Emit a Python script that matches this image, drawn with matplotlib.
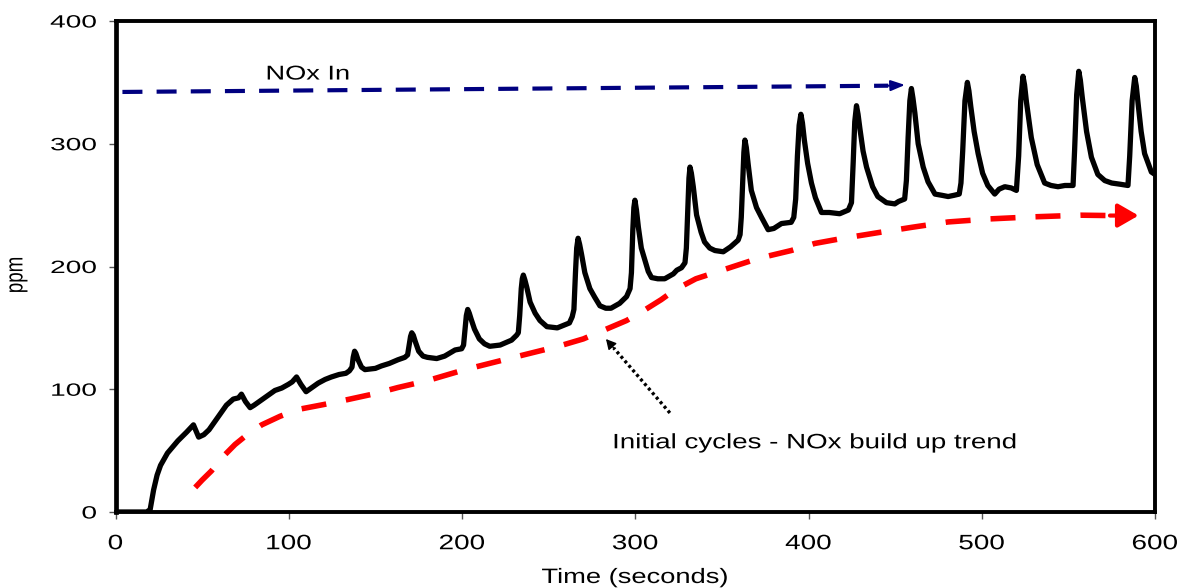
import matplotlib
matplotlib.use("Agg")
import matplotlib.pyplot as plt
from matplotlib.patches import FancyArrowPatch
from matplotlib.patheffects import AbstractPathEffect
from matplotlib.transforms import Affine2D

# ---------------- data ----------------
time_s = [0, 18, 20, 22, 24, 26, 30, 36, 41, 45, 46.5, 48, 51, 54, 59, 64, 68, 71, 72.7, 75,
          77.7, 80, 84, 88, 92, 96, 99.8, 102, 104.5, 107, 110, 113, 117, 121, 124.6, 129,
          133, 135, 136.5, 137.2, 138, 138.8, 140, 142, 144, 150, 153.5, 158, 163, 167,
          168.6, 169.5, 170.3, 171, 171.9, 173, 175, 177.5, 180, 185.4, 190, 196, 199.8,
          200.9, 201.8, 202.5, 203.3, 204.2, 205.3, 207.2, 210, 213, 216, 222, 228.6, 231.5, 232.5,
          233.3, 234.2, 234.8, 235.4, 236.3, 237.4, 239.3, 242.2, 245, 249, 255, 262,
          263.6, 264.6, 265.5, 266.2, 267, 267.9, 269, 270.9, 273.8, 276.6, 279.6, 283, 286, 291, 295,
          297, 297.8, 298.6, 299.2, 299.8, 300.7, 301.8, 303.5, 305.6, 307.5, 309.4, 313, 317, 322, 324,
          326.7, 328.7,
          329.5, 330.4, 331, 331.6, 332.4, 333.5, 335.4, 338, 340, 343, 346, 350.8, 355, 359.4, 360.5,
          361.2, 362, 362.7, 363.3, 364.1, 365.2, 367, 370, 372.9, 376.7, 380, 384.4, 390, 391.5,
          392.6, 393.6, 394.6, 395.6, 396.5, 397.6, 399.5, 401.7, 404, 407.5, 412, 418, 423, 424.8,
          425.8, 426.7, 427.7, 428.6, 429.7, 431.5, 433.5, 437, 440, 445, 449.8, 452, 455.5,
          456.5, 457.5, 458.5, 459.4, 460.3, 461.4, 463.3, 466.2, 469, 473, 477, 480.6, 484, 487,
          488, 489, 490.3, 491.7, 492.6, 493.7, 495.6, 497.9, 500.5, 503.5, 507.5, 510, 513.3, 517, 520,
          521.3, 522.5, 523.8, 524.7, 525.8, 528.6, 532, 536.3, 540, 544, 548, 552.7,
          553.6, 554.8, 556, 556.9, 558, 560.5, 563.3, 567, 571, 575, 580, 584.4,
          585.4, 586.8, 588.3, 589.2, 590.3, 592, 594, 597.9, 600]
nox_ppm = [0, 0, 2, 18, 30, 38, 48, 58, 65, 71, 66, 61, 63, 67, 77, 87, 92, 93, 96, 90,
           85, 87, 91, 95, 99, 101, 104, 106, 110, 104, 98, 101, 105, 108, 110, 112,
           113, 115, 118, 126, 131, 129, 124, 118, 116, 117, 119, 121, 124, 126,
           128, 136, 143, 146, 144, 139, 131, 127, 126, 125, 127, 132, 133,
           136, 150, 160, 165, 162, 157, 149, 141, 137, 135, 136, 140, 144, 146,
           160, 182, 190, 193, 189, 183, 171, 162, 156, 151, 150, 154,
           159, 165, 195, 215, 223, 218, 210, 195, 182, 175, 168, 166, 166, 170, 175.5,
           182, 195, 230, 248, 254, 246, 232, 215, 205, 196, 191, 190, 190, 194, 197,
           199, 203,
           215, 250, 272, 281, 276, 265, 242, 228, 220, 215, 213, 212, 216, 221.5, 226,
           240, 268, 293, 303, 297, 283, 262, 248, 240, 230, 231, 235, 236, 240,
           255, 290, 315, 324, 317, 303, 284, 268, 256, 244, 244, 243, 246, 252,
           285, 318, 331, 324, 312, 294, 281, 265, 257, 252, 251, 253, 255,
           270, 305, 335, 345, 337, 325, 300, 281, 269, 259, 258, 257, 258, 259,
           268, 294, 335, 350, 343, 330, 310, 292, 276, 266, 259, 263, 265, 264, 262,
           290, 335, 355, 348, 334, 305, 283, 268, 266, 265, 266, 266,
           295, 340, 359, 352, 338, 310, 289, 275, 270, 268, 267, 266,
           290, 335, 354, 347, 332, 310, 292, 277, 275]

trend_t = [46, 50, 55.4, 62, 69, 76, 84.4, 95, 105.6, 120, 134.4, 150, 163, 180, 201.7, 228.5, 255.6, 270,
           282.5, 295, 305.6, 315, 322.9, 335, 351.7, 371, 390, 403.7, 420, 442, 460, 480.6, 505, 528.7,
           545, 557, 574]
trend_ppm = [20, 26, 33.5, 45, 55, 63, 71, 78, 83.6, 87.5, 91.7, 96.5, 101.4, 107, 116, 125.5, 135, 141,
             148.5, 156, 164.7, 173, 181, 190, 197.7, 206.6, 213, 218.8, 223, 228, 232, 236.3, 238.8, 240.4,
             241.2, 241.8, 241.5]
trend_tip = (590.5, 241.5)

nox_in_t = [4, 446]
nox_in_ppm = [342.2, 347.3]
nox_in_tip = (455.7, 347.9)

pointer_start = (320, 80.7)
pointer_tip = (283.1, 140.9)

x_ticks = [0, 100, 200, 300, 400, 500, 600]
y_ticks = [0, 100, 200, 300, 400]
x_label = "Time (seconds)"
y_label = "ppm"
label_nox_in = "NOx In"
label_trend = "Initial cycles - NOx build up trend"


# ---------------- helpers ----------------
class Stretch(AbstractPathEffect):
    """Draw text path stretched (the reference text is wide)."""
    def __init__(self, sx=1.0, sy=1.0, anchor="center"):
        super().__init__()
        self.sx, self.sy, self.anchor = sx, sy, anchor

    def draw_path(self, renderer, gc, tpath, affine, rgbFace=None):
        ext = tpath.get_extents()
        if self.anchor == "left":
            ax0 = ext.x0
        elif self.anchor == "right":
            ax0 = ext.x1
        else:
            ax0 = 0.5 * (ext.x0 + ext.x1)
        ay0 = 0.5 * (ext.y0 + ext.y1)
        t = Affine2D().translate(-ax0, -ay0).scale(self.sx, self.sy).translate(ax0, ay0)
        renderer.draw_path(gc, tpath, t + affine, rgbFace)


plt.rcParams["font.family"] = ["Liberation Sans", "DejaVu Sans"]

W, H = 1188, 588
fig = plt.figure(figsize=(W / 100, H / 100), dpi=100)
ax = fig.add_axes([115.5 / W, 1 - 512 / H, (1155 - 115.5) / W, (512 - 21) / H])

# main signal
ax.plot(time_s, nox_ppm, color="black", lw=3.8, solid_joinstyle="round", solid_capstyle="round", zorder=5)

# red trend dashed + arrow head
ax.plot(trend_t, trend_ppm, color="#ff0000", lw=4.0, dashes=(4.5, 3.6), dash_capstyle="butt", zorder=4)
ax.add_patch(FancyArrowPatch((trend_t[-1], trend_ppm[-1]), trend_tip,
                             arrowstyle="-|>,head_length=12.5,head_width=7.2", mutation_scale=1,
                             color="#ff0000", lw=3.0, shrinkA=0, shrinkB=0, zorder=4))

# blue NOx In dashed arrow
ax.plot(nox_in_t, nox_in_ppm, color="#000080", lw=3.0, dashes=(4.8, 3.4), dash_capstyle="butt", zorder=4)
ax.add_patch(FancyArrowPatch((nox_in_t[-1], nox_in_ppm[-1]), nox_in_tip,
                             arrowstyle="-|>,head_length=8.5,head_width=3.2", mutation_scale=1,
                             color="#000080", lw=1.5, shrinkA=0, shrinkB=0, zorder=4))

# dotted pointer
fr = 0.12
back = (pointer_tip[0] + fr * (pointer_start[0] - pointer_tip[0]),
        pointer_tip[1] + fr * (pointer_start[1] - pointer_tip[1]))
ax.plot([pointer_start[0], back[0]], [pointer_start[1], back[1]], color="black", lw=2.4,
        linestyle=(0, (0.9, 0.9)), zorder=4)
ax.add_patch(FancyArrowPatch(back, pointer_tip, arrowstyle="-|>,head_length=6,head_width=3.2",
                             mutation_scale=1, color="black", lw=1.0, shrinkA=0, shrinkB=0, zorder=4))

# annotations
ax.text(86.9, 356.8, label_nox_in, fontsize=14.4, ha="left", va="center",
        path_effects=[Stretch(1.36, 1.0, "left")])
ax.text(287, 51.9, label_trend, fontsize=15.0, ha="left", va="baseline",
        path_effects=[Stretch(1.33, 1.0, "left")])

# axes formatting
ax.set_xlim(0, 600)
ax.set_ylim(0, 400)
ax.set_xticks(x_ticks)
ax.set_yticks(y_ticks)
xl = ax.set_xticklabels([str(v) for v in x_ticks], fontsize=15.0)
yl = ax.set_yticklabels([str(v) for v in y_ticks], fontsize=12.8)
for t in xl:
    t.set_path_effects([Stretch(1.34, 1.0, "center")])
for t in yl:
    t.set_path_effects([Stretch(1.58, 1.0, "right")])
ax.tick_params(axis="x", direction="out", length=5, width=1, color="#555555", pad=11)
ax.tick_params(axis="y", direction="out", length=5, width=1, color="#555555", pad=8.5)
for side, sp in ax.spines.items():
    sp.set_linewidth(3.4 if side == "left" else 2.8)
    sp.set_color("black")
    sp.set_zorder(6)

fig.text(635 / W, 1 - 583 / H, x_label, fontsize=15.0, ha="center", va="baseline",
         path_effects=[Stretch(1.31, 1.0, "center")])
fig.text(17 / W, 1 - 275 / H, y_label, fontsize=13.5, rotation=90, ha="center", va="center",
         path_effects=[Stretch(1.0, 1.3, "center")])

fig.savefig("out.png", dpi=100)
